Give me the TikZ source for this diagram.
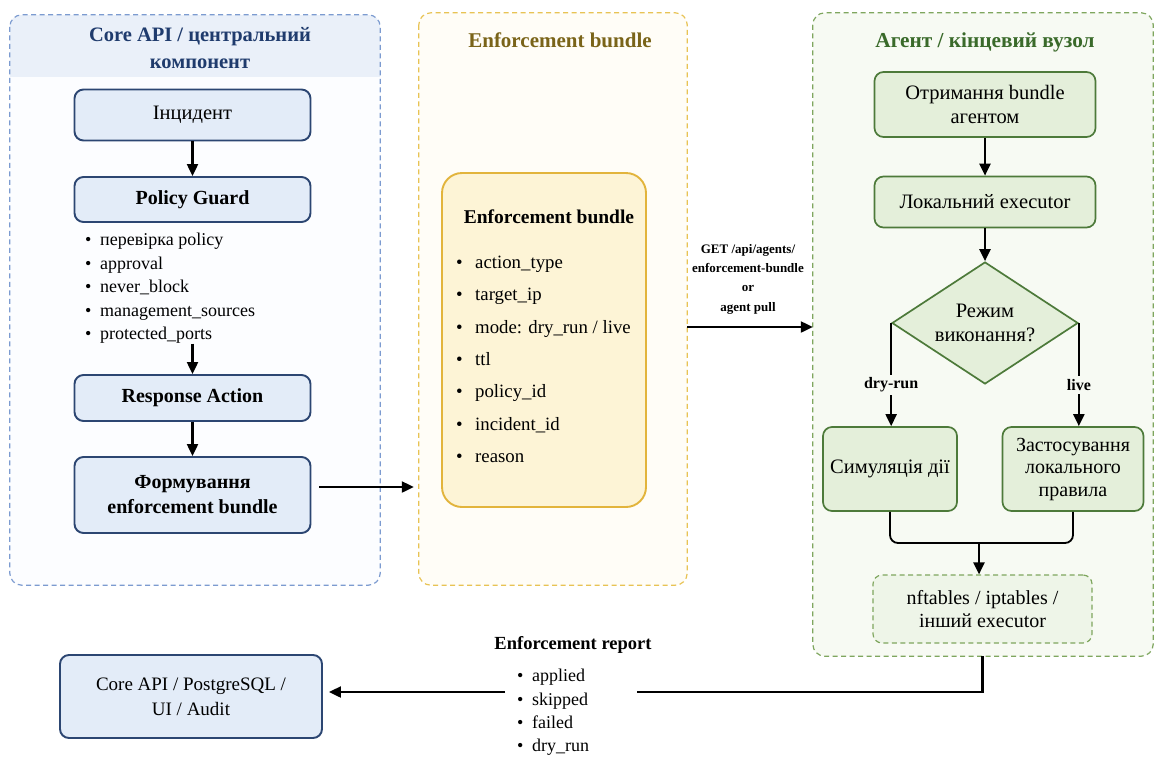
\documentclass[tikz,border=0pt]{standalone}
\usepackage{fontspec}
\setmainfont{Liberation Serif}
\usetikzlibrary{arrows.meta,shapes.geometric}

\definecolor{bluefill}{HTML}{E3ECF8}
\definecolor{blueline}{HTML}{2C4672}
\definecolor{bluedash}{HTML}{7C9BD0}
\definecolor{bluehead}{HTML}{EAF0F9}
\definecolor{bluepanel}{HTML}{FCFDFF}
\definecolor{bluetitle}{HTML}{1F3B6D}
\definecolor{yelpanel}{HTML}{FFFDF7}
\definecolor{yeldash}{HTML}{E8C354}
\definecolor{yelfill}{HTML}{FDF4D6}
\definecolor{yelline}{HTML}{E2B43C}
\definecolor{yeltitle}{HTML}{7A6419}
\definecolor{grnpanel}{HTML}{F7FAF3}
\definecolor{grndash}{HTML}{7FA65E}
\definecolor{grnfill}{HTML}{E4EFDA}
\definecolor{grnline}{HTML}{4D7A3A}
\definecolor{grntitle}{HTML}{3A6A2A}
\definecolor{nftfill}{HTML}{EEF5E8}

\newcommand\itembul{\makebox[15pt][l]{•}}
\newcommand\itembulwide{\makebox[19pt][l]{•}}

\begin{document}
\begin{tikzpicture}[x=1pt,y=-1pt,
  boxfont/.style={font=\fontsize{20.5}{24}\selectfont},
  boldfont/.style={font=\fontsize{20}{25}\selectfont\bfseries},
  bluebox/.style={draw=blueline, fill=bluefill, line width=1.9pt, rounded corners=9pt,
    align=center, inner sep=0pt},
  greenbox/.style={draw=grnline, fill=grnfill, line width=1.7pt, rounded corners=9pt,
    align=center, inner sep=0pt, boxfont},
  panelbg/.style={inner sep=0pt, rounded corners=12pt},
  paneledge/.style={line width=1.2pt, rounded corners=12pt, dash pattern=on 5pt off 3.5pt},
  arr/.style={line width=2.2pt, -{Triangle[length=12pt,width=11pt]}},
  conn/.style={line width=2.2pt},
  lbl/.style={font=\fontsize{16}{19}\selectfont\bfseries, fill=grnpanel, inner sep=3pt},
  listtxt/.style={anchor=north west, align=left, inner sep=0pt}
]
\useasboundingbox (0,0) rectangle (1155,758);
\fill[white] (0,0) rectangle (1155,758);

% ---------- panel backgrounds ----------
\node[panelbg, fill=bluepanel, minimum width=370pt, minimum height=570pt] (cpanel) at (195,300) {};
\coordinate (bandb) at (0,77);
\begin{scope}
  \clip[rounded corners=12pt] (cpanel.north west) rectangle (cpanel.south east);
  \fill[bluehead] (cpanel.north west) rectangle (cpanel.east |- bandb);
\end{scope}
\draw[paneledge, draw=bluedash] (cpanel.north west) rectangle (cpanel.south east);

\node[panelbg, fill=yelpanel, minimum width=268pt, minimum height=572pt] (bpanel) at (553,299) {};
\draw[paneledge, draw=yeldash] (bpanel.north west) rectangle (bpanel.south east);

\node[panelbg, fill=grnpanel, minimum width=340pt, minimum height=643pt] (apanel) at (983,334.5) {};
\draw[paneledge, draw=grndash] (apanel.north west) rectangle (apanel.south east);

% ---------- Core API ----------
\node[align=center, text=bluetitle, font=\fontsize{20.5}{27}\selectfont\bfseries] (ctitle) at (200,48.5)
  {Core API / центральний\\компонент};
\node[bluebox, boxfont, minimum width=236pt, minimum height=51pt] (inc) at (192.5,115) {Інцидент};
\node[bluebox, boldfont, minimum width=236pt, minimum height=45pt] (pg) at (192.5,199.5) {Policy Guard};
\node[listtxt, font=\fontsize{18}{23.5}\selectfont] (pglist) at (85,233)
  {\itembul перевірка policy\\ \itembul approval\\ \itembul never\_block\\
   \itembul management\_sources\\ \itembul protected\_ports};
\node[bluebox, boldfont, minimum width=236pt, minimum height=46pt] (resp) at (192.5,398) {Response Action};
\node[bluebox, boldfont, minimum width=236pt, minimum height=76pt] (form) at (192.5,495)
  {Формування\\enforcement bundle};

\draw[arr] (inc) -- (pg);
\draw[arr] (pglist.south -| resp.north) -- (resp.north);
\draw[arr] (resp) -- (form);

% ---------- Enforcement bundle ----------
\node[text=yeltitle, font=\fontsize{21}{24}\selectfont\bfseries] (btitle) at (560,40) {Enforcement bundle};
\node[draw=yelline, fill=yelfill, line width=1.9pt, rounded corners=20pt, inner sep=0pt,
  minimum width=204pt, minimum height=334pt] (bbox) at (544,340) {};
\node[font=\fontsize{19.5}{24}\selectfont\bfseries] (bboxtitle) at (549,217) {Enforcement bundle};
\node[listtxt, font=\fontsize{18.8}{32.3}\selectfont] (blist) at (456,256)
  {\itembulwide action\_type\\ \itembulwide target\_ip\\ \itembulwide mode: dry\_run / live\\
   \itembulwide ttl\\ \itembulwide policy\_id\\ \itembulwide incident\_id\\ \itembulwide reason};

\coordinate (fy) at (0,487);
\draw[arr, shorten <=8pt, shorten >=5pt] (form.east |- fy) -- (bpanel.west |- fy);

\coordinate (gy) at (0,327);
\node[align=center, font=\fontsize{13}{19.3}\selectfont\bfseries] (getlbl) at (748,279)
  {GET /api/agents/\\enforcement-bundle\\or\\agent pull};
\draw[arr] (bpanel.east |- gy) -- (apanel.west |- gy);

% ---------- Agent ----------
\node[text=grntitle, font=\fontsize{21.3}{24}\selectfont\bfseries] (atitle) at (985,42) {Агент / кінцевий вузол};
\node[greenbox, minimum width=221pt, minimum height=65pt] (rcv) at (985,104.5) {Отримання bundle\\агентом};
\node[greenbox, minimum width=221pt, minimum height=51pt] (exe) at (985,202) {Локальний executor};
\node[diamond, draw=grnline, fill=grnfill, line width=1.7pt, aspect=1.5, inner sep=0pt,
  minimum width=186pt, minimum height=122pt, align=center, boxfont] (dia) at (985,323)
  {Режим\\виконання?};
\node[greenbox, minimum width=134pt, minimum height=84pt] (sim) at (890,469) {Симуляція дії};
\node[greenbox, minimum width=141pt, minimum height=84pt, font=\fontsize{20}{22.5}\selectfont]
  (app) at (1073,469) {Застосування\\локального\\правила};
\node[draw=grndash, fill=nftfill, line width=1.2pt, dash pattern=on 5pt off 3.5pt, rounded corners=9pt,
  inner sep=0pt, minimum width=219pt, minimum height=68pt, align=center,
  font=\fontsize{20}{23}\selectfont] (nft) at (982.5,609) {nftables / iptables /\\інший executor};

\draw[arr] (rcv) -- (exe);
\draw[arr] (exe) -- (dia);
\draw[arr] (dia.west) -- node[lbl, pos=0.6] {dry-run} (dia.west |- sim.north);
\draw[arr] (dia.east) -- node[lbl, pos=0.6] {live} (dia.east |- app.north);

\coordinate (mrg) at (979,543);
\draw[line width=1.8pt, rounded corners=8pt] (sim.south) |- (mrg) -| (app.south);
\draw[arr] (mrg) -- (mrg |- nft.north);

% ---------- Enforcement report ----------
\node[bluebox, font=\fontsize{19}{25}\selectfont, minimum width=262pt, minimum height=83pt]
  (dbbox) at (191,696.5) {Core API / PostgreSQL /\\UI / Audit};
\node[font=\fontsize{18.5}{20}\selectfont\bfseries] (reptitle) at (573,645) {Enforcement report};
\node[listtxt, font=\fontsize{18}{23.3}\selectfont] (replist) at (517,669)
  {\itembul applied\\ \itembul skipped\\ \itembul failed\\ \itembul dry\_run};

\coordinate (ry) at (0,692);
\coordinate (rgapR) at (637,692);
\coordinate (rgapL) at (505,692);
\draw[conn] (apanel.south -| nft.south) |- (rgapR);
\draw[arr, shorten >=6pt] (rgapL) -- (dbbox.east |- ry);
\end{tikzpicture}
\end{document}
